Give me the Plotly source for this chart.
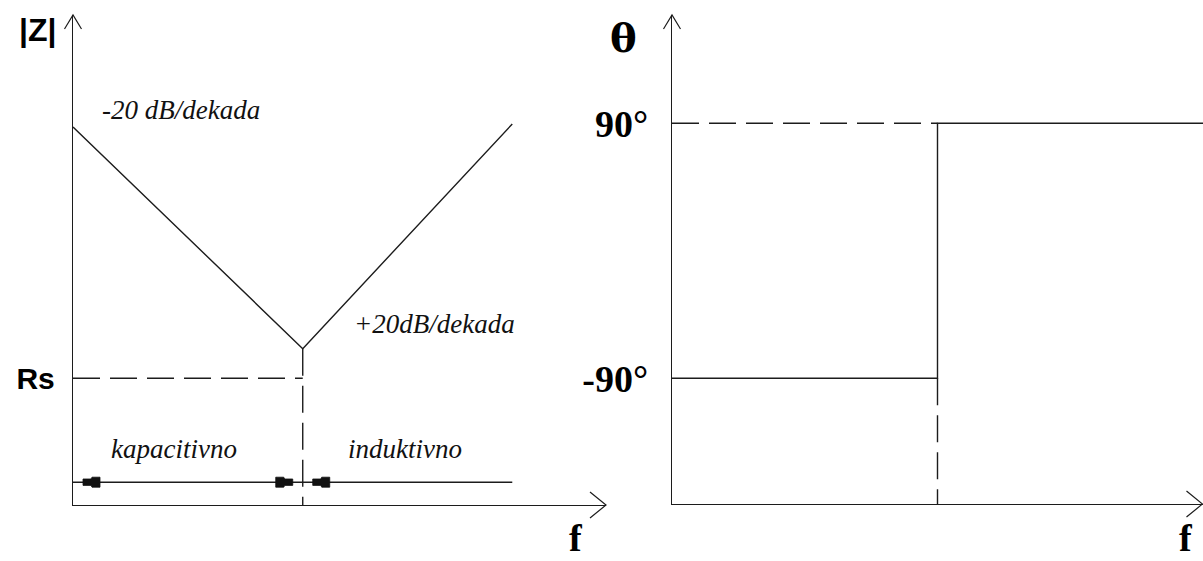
import plotly.graph_objects as go

# --- podaci (shematski, procitano sa slike) ---
# lijevi dijagram: |Z| u ovisnosti o frekvenciji (log skala, dekade)
f_decade = [0.0, 2.5, 4.78]
z_level = [8.95, 3.7, 9.02]
f_res = 2.5
rs_level = 3.0
dim_level = 0.54
dim_end = 4.78
z_tickvals = [3.0]
z_ticktext = ['Rs']

# desni dijagram: fazni kut theta
phase_f = [0.0, 2.5, 2.5, 5.0]
phase_deg = [-90, -90, 90, 90]
phase_tickvals = [90, -90]
phase_ticktext = ['90°', '-90°']

# --- izgled ---
W, H = 1203, 561
LINE = '#1c1c1c'
LW = 1.4
DASH = '27px,10px'

# polozaj osi u pikselima (lijevo/desno, dno/vrh)
L_X0, L_X1, L_Y0, L_Y1 = 73, 606, 505, 15
R_X0, R_X1, R_Y0, R_Y1 = 672, 1203, 504, 15

xl_range = [0, 5.8]
yl_range = [0, 11.6]
xr_range = [0, 5.0]
yr_range = [-178.7, 166.4]


def px(xp, yp):
    return xp / W, 1 - yp / H


def seg(x, y, axes='', dash='solid'):
    return go.Scatter(x=x, y=y, mode='lines', hoverinfo='skip',
                      line=dict(color=LINE, width=LW, dash=dash),
                      xaxis='x' + axes, yaxis='y' + axes)


fig = go.Figure()

# |Z| krivulja
fig.add_trace(seg(f_decade, z_level))
fig.add_trace(seg([0, f_res], [rs_level, rs_level], dash=DASH))
fig.add_trace(seg([f_res, f_res], [z_level[1], 0], dash=DASH))
fig.add_trace(seg([0, dim_end], [dim_level, dim_level]))

# faza
fig.add_trace(seg(phase_f, phase_deg, axes='2'))
fig.add_trace(seg([0, f_res], [phase_deg[-1], phase_deg[-1]], axes='2', dash=DASH))
fig.add_trace(seg([f_res, f_res], [phase_deg[0], yr_range[0]], axes='2', dash=DASH))

shapes = []


def chevron(xp, yp, path):
    x, y = px(xp, yp)
    shapes.append(dict(type='path', xref='paper', yref='paper',
                       xsizemode='pixel', ysizemode='pixel',
                       xanchor=x, yanchor=y, path=path,
                       line=dict(color=LINE, width=1.2)))


up = 'M-8.5,-14 L0,0 L8.5,-14'
right = 'M-16,13 L0,0 L-16,-13'
chevron(L_X0, L_Y1, up)
chevron(L_X1, L_Y0, right)
chevron(R_X0, R_Y1, up)
chevron(R_X1 - 0.5, R_Y0, right)


def dim_head(xa, sign):
    # sign=+1 strelica prema lijevo (vrh na +10px), -1 prema desno
    pts = [(10, 3.2), (18, 3.2), (19, 5), (27, 5),
           (27, -5), (19, -5), (18, -3.2), (10, -3.2)]
    path = 'M' + ' L'.join(f'{sign * a},{b}' for a, b in pts) + ' Z'
    shapes.append(dict(type='path', xref='x', yref='y',
                       xsizemode='pixel', ysizemode='pixel',
                       xanchor=xa, yanchor=dim_level, path=path,
                       fillcolor='#111111', line=dict(color='#111111', width=0.8)))


dim_head(0, 1)
dim_head(f_res, -1)
dim_head(f_res, 1)

italic = dict(family='Liberation Serif', size=27, color='#111111')
f_font = dict(family='Liberation Serif', size=38, color='black')
annotations = []


def label(text, xp, yp, font, yanchor='middle'):
    x, y = px(xp, yp)
    annotations.append(dict(text=text, x=x, y=y, xref='paper', yref='paper',
                            showarrow=False, xanchor='center', yanchor=yanchor,
                            font=font))


label('<b>|Z|</b>', 37.5, 30, dict(family='Liberation Sans', size=32, color='black'))
label('<i>-20 dB/dekada</i>', 181, 110, italic)
label('<i>+20dB/dekada</i>', 434, 324, italic)
label('<i>kapacitivno</i>', 174, 449, italic)
label('<i>induktivno</i>', 405, 449, italic)
label('<b>f</b>', 576, H, f_font, yanchor='bottom')
label('<b>θ</b>', 623.5, 37.5, dict(family='DejaVu Serif', size=40, color='black'))
label('<b>f</b>', 1185.5, H, f_font, yanchor='bottom')

axis_common = dict(showline=True, linecolor=LINE, linewidth=LW, showgrid=False,
                   zeroline=False, ticks='', fixedrange=True)

fig.update_layout(
    width=W, height=H,
    margin=dict(l=0, r=0, t=0, b=0, pad=0),
    paper_bgcolor='white', plot_bgcolor='white',
    showlegend=False,
    xaxis=dict(domain=[L_X0 / W, L_X1 / W], range=xl_range, showticklabels=False,
               anchor='y', **axis_common),
    yaxis=dict(domain=[(H - L_Y0) / H, (H - L_Y1) / H], range=yl_range, anchor='x',
               tickvals=z_tickvals, ticktext=[f'<b>{t}</b>' for t in z_ticktext],
               tickfont=dict(family='Liberation Sans', size=30, color='black'),
               ticklabelstandoff=11, **axis_common),
    xaxis2=dict(domain=[R_X0 / W, R_X1 / W], range=xr_range, showticklabels=False,
                anchor='y2', **axis_common),
    yaxis2=dict(domain=[(H - R_Y0) / H, (H - R_Y1) / H], range=yr_range, anchor='x2',
                tickvals=phase_tickvals, ticktext=[f'<b>{t}</b>' for t in phase_ticktext],
                tickfont=dict(family='Liberation Serif', size=38, color='black'),
                ticklabelstandoff=15, **axis_common),
    shapes=shapes,
    annotations=annotations,
)

fig.write_html('out.html', config={'displayModeBar': False},
               post_script="document.body.style.margin='0';")
